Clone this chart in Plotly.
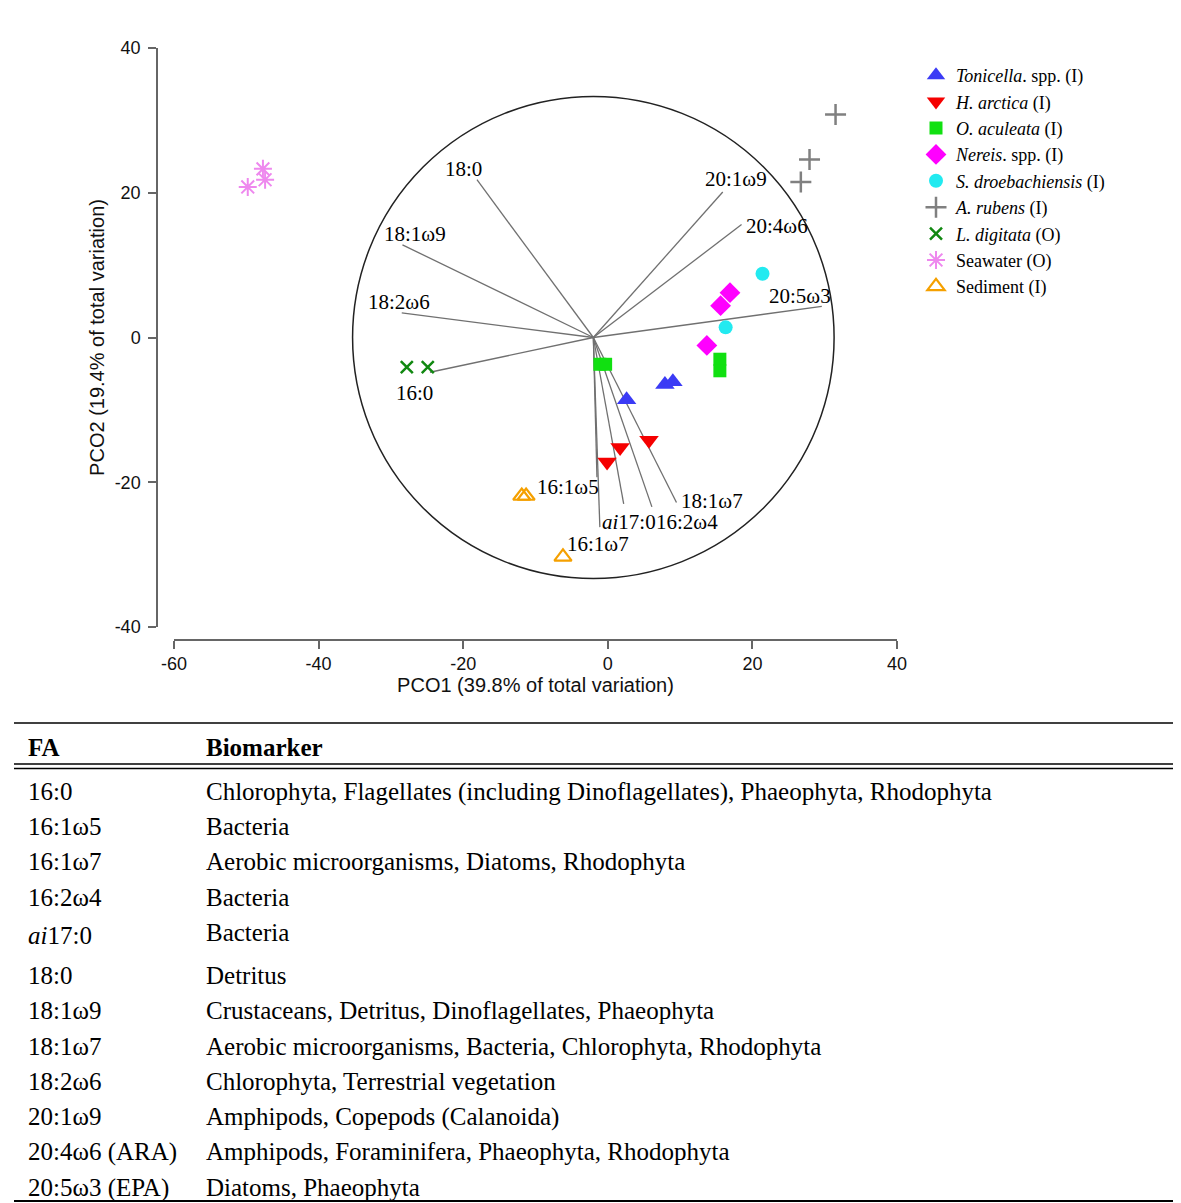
import plotly.graph_objects as go

# page body has an 8px margin: figure is sized to fit inside the window
OFF = 8
FW, FH = 1165, 1195


def px_x(sx):
    return (sx - OFF) / FW


def px_y(sy):
    return 1 - (sy - OFF) / FH


# ---------------- data ----------------
species = ["<i>Tonicella</i>. spp. (I)", "<i>H. arctica</i> (I)", "<i>O. aculeata</i> (I)",
           "<i>Nereis</i>. spp. (I)", "<i>S. droebachiensis</i> (I)", "<i>A. rubens</i> (I)",
           "<i>L. digitata</i> (O)", "Seawater (O)", "Sediment (I)"]

tonicella_x = [2.6, 7.9, 9.0]
tonicella_y = [-8.6, -6.5, -6.1]
harctica_x = [-0.1, 1.7, 5.7]
harctica_y = [-17.2, -15.2, -14.2]
oaculeata_x = [-1.1, -0.3, 15.5, 15.5]
oaculeata_y = [-3.7, -3.7, -3.0, -4.6]
nereis_x = [16.9, 15.6, 13.7]
nereis_y = [6.2, 4.4, -1.1]
sdroe_x = [21.4, 16.3]
sdroe_y = [8.8, 1.4]
arubens_x = [31.5, 27.9, 26.7]
arubens_y = [30.8, 24.6, 21.5]
ldigitata_x = [-27.8, -24.9]
ldigitata_y = [-4.1, -4.1]
seawater_x = [-49.8, -47.7, -47.4]
seawater_y = [20.8, 23.3, 21.8]
sediment_x = [-11.9, -11.3, -6.2]
sediment_y = [-21.9, -21.9, -30.3]

# vector overlay (fatty acids)
vec_origin = (-2.0, 0.0)
circle_radius = 33.3
vec_names = ["16:0", "16:1ω5", "16:1ω7", "16:2ω4", "<i>ai</i>17:0", "18:0",
             "18:1ω9", "18:1ω7", "18:2ω6", "20:1ω9", "20:4ω6", "20:5ω3"]
vec_x = [-24.6, -1.5, -1.1, 6.1, 2.2, -18.1, -28.4, 9.5, -28.5, 15.9, 18.5, 29.6]
vec_y = [-4.8, -19.3, -26.2, -23.4, -23.0, 21.8, 12.8, -22.8, 3.4, 20.1, 15.6, 4.3]
label_x = [-26.7, -5.5, -1.4, 11.0, 3.0, -20.0, -26.7, 14.4, -28.9, 17.7, 23.4, 26.6]
label_y = [-7.6, -20.6, -28.6, -25.5, -25.5, 23.3, 14.3, -22.6, 4.9, 21.9, 15.4, 5.7]

x_ticks = [-60, -40, -20, 0, 20, 40]
x_tick_text = ["-60", "-40", "-20", "0", "20", "40"]
y_ticks = [-40, -20, 0, 20, 40]
y_tick_text = ["-40", "-20", "0", "20", "40"]

# table
table_fa = ["16:0", "16:1ω5", "16:1ω7", "16:2ω4", "<i>ai</i>17:0", "18:0", "18:1ω9",
            "18:1ω7", "18:2ω6", "20:1ω9", "20:4ω6 (ARA)", "20:5ω3 (EPA)"]
table_bio = ["Chlorophyta, Flagellates (including Dinoflagellates), Phaeophyta, Rhodophyta",
             "Bacteria",
             "Aerobic microorganisms, Diatoms, Rhodophyta",
             "Bacteria",
             "Bacteria",
             "Detritus",
             "Crustaceans, Detritus, Dinoflagellates, Phaeophyta",
             "Aerobic microorganisms, Bacteria, Chlorophyta, Rhodophyta",
             "Chlorophyta, Terrestrial vegetation",
             "Amphipods, Copepods (Calanoida)",
             "Amphipods, Foraminifera, Phaeophyta, Rhodophyta",
             "Diatoms, Phaeophyta"]

# ---------------- figure ----------------
SERIF = "Liberation Serif"
SANS = "Liberation Sans"

fig = go.Figure()

# vectors
vx, vy = [], []
for ex, ey in zip(vec_x, vec_y):
    vx += [vec_origin[0], ex, None]
    vy += [vec_origin[1], ey, None]
fig.add_trace(go.Scatter(x=vx, y=vy, mode="lines", line=dict(color="#707070", width=1.3),
                         showlegend=False, hoverinfo="skip"))

series = [
    (tonicella_x, tonicella_y, "triangle-up", "#3b3bf5", 17, 0),
    (harctica_x, harctica_y, "triangle-down", "#f50000", 17, 0),
    (oaculeata_x, oaculeata_y, "square", "#11e011", 13, 0),
    (nereis_x, nereis_y, "diamond", "#ff00ff", 16, 0),
    (sdroe_x, sdroe_y, "circle", "#22eaf0", 14, 0),
    (arubens_x, arubens_y, "cross-thin", "#808080", 15, 2.5),
    (ldigitata_x, ldigitata_y, "x-thin", "#118811", 12, 2.5),
    (seawater_x, seawater_y, "asterisk-open", "#ee88ee", 15, 2),
    (sediment_x, sediment_y, "triangle-up-open", "#f5a000", 15, 2.2),
]
for name, (xs, ys, sym, col, sz, lw) in zip(species, series):
    if lw:
        marker = dict(symbol=sym, size=sz, color=col, line=dict(color=col, width=lw))
    else:
        marker = dict(symbol=sym, size=sz, color=col, line=dict(width=0))
    fig.add_trace(go.Scatter(x=xs, y=ys, mode="markers", name=name, marker=marker,
                             cliponaxis=False))

# vector circle
fig.add_shape(type="circle", xref="x", yref="y",
              x0=vec_origin[0] - circle_radius, x1=vec_origin[0] + circle_radius,
              y0=vec_origin[1] - circle_radius, y1=vec_origin[1] + circle_radius,
              line=dict(color="#222222", width=1.5), layer="below")

for nm, lx, ly in zip(vec_names, label_x, label_y):
    fig.add_annotation(x=lx, y=ly, xref="x", yref="y", text=nm, showarrow=False,
                       font=dict(family=SERIF, size=21, color="black"))

# table
fig.add_trace(go.Table(
    domain=dict(x=[px_x(20), 1.0], y=[0, px_y(726)]),
    columnwidth=[178, 975],
    header=dict(values=["<b>FA</b>", "<b>Biomarker</b>"], align="left",
                fill_color="white", line_color="rgba(0,0,0,0)", height=47,
                font=dict(family=SERIF, size=25, color="black")),
    cells=dict(values=[table_fa, table_bio], align="left",
               fill_color="white", line_color="rgba(0,0,0,0)", height=35.3,
               font=dict(family=SERIF, size=25, color="black")),
))

# table rules
for yp, wd in [(723, 1.5), (764, 1.5), (768.5, 1.5), (1201, 2)]:
    fig.add_shape(type="line", xref="paper", yref="paper", x0=px_x(14), x1=1.0,
                  y0=px_y(yp), y1=px_y(yp), line=dict(color="black", width=wd))

fig.update_layout(
    width=FW, height=FH,
    margin=dict(l=0, r=0, t=0, b=0, autoexpand=False),
    paper_bgcolor="white", plot_bgcolor="white",
    showlegend=True,
    legend=dict(x=px_x(916), y=px_y(57), xanchor="left", yanchor="top",
                font=dict(family=SERIF, size=18, color="black"),
                bgcolor="rgba(0,0,0,0)", itemsizing="trace", tracegroupgap=0),
    xaxis=dict(domain=[px_x(174), px_x(897)], range=[-60, 40], anchor="free",
               position=px_y(640), showgrid=False, zeroline=False, automargin=False,
               showline=True, linecolor="#666666", linewidth=1.5,
               ticks="outside", ticklen=8, tickcolor="#666666", tickwidth=1.5,
               tickvals=x_ticks, ticktext=x_tick_text,
               tickfont=dict(family=SANS, size=18, color="#111111"),
               title=dict(text="PCO1 (39.8% of total variation)", standoff=4,
                          font=dict(family=SANS, size=20, color="#111111"))),
    yaxis=dict(domain=[px_y(627), px_y(48)], range=[-40, 40], anchor="free",
               position=px_x(157), showgrid=False, zeroline=False, automargin=False,
               showline=True, linecolor="#666666", linewidth=1.5,
               ticks="outside", ticklen=8, tickcolor="#666666", tickwidth=1.5,
               tickvals=y_ticks, ticktext=y_tick_text, ticklabelstandoff=4,
               tickfont=dict(family=SANS, size=18, color="#111111"),
               title=dict(text="PCO2 (19.4% of total variation)", standoff=4,
                          font=dict(family=SANS, size=20, color="#111111"))),
)

fig.write_html("out.html")
